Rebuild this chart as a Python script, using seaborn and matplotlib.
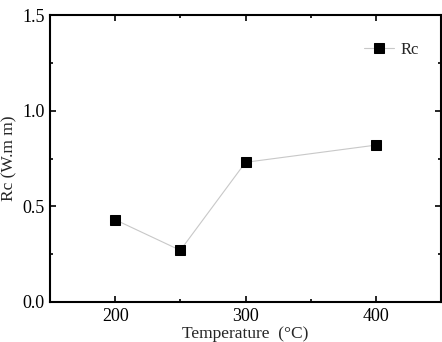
import matplotlib
matplotlib.use("Agg")
import matplotlib.pyplot as plt
import seaborn as sns
import pandas as pd
from matplotlib.ticker import MultipleLocator

temperature = [200, 250, 300, 400]
rc_values = [0.43, 0.27, 0.73, 0.82]

sns.set_theme(style="ticks")
plt.rcParams['font.family'] = ['Liberation Serif', 'DejaVu Serif']

df = pd.DataFrame({"Temperature": temperature, "Rc": rc_values})

fig = plt.figure(figsize=(4.42, 3.42), dpi=100)
ax = fig.add_axes([50/442, 1 - 302/342, 391/442, 287/342])
sns.lineplot(data=df, x="Temperature", y="Rc", ax=ax, color="#c8c8c8", linewidth=0.8,
             marker="s", markersize=6.5, markerfacecolor="black", markeredgecolor="black",
             label="Rc")
ax.set_xlim(150, 450)
ax.set_ylim(0, 1.5)
ax.xaxis.set_major_locator(MultipleLocator(100))
ax.xaxis.set_minor_locator(MultipleLocator(50))
ax.yaxis.set_major_locator(MultipleLocator(0.5))
ax.yaxis.set_minor_locator(MultipleLocator(0.25))
ax.tick_params(which="both", direction="in", top=True, right=True, labelsize=13, colors="black")
ax.tick_params(which="major", length=4, width=1.2, pad=4)
ax.tick_params(which="minor", length=2.5, width=1.2)
ax.set_xticks([200, 300, 400])
ax.set_xticklabels(["200", "300", "400"])
ax.set_yticklabels([f"{v:.1f}" for v in ax.get_yticks()])
for s in ax.spines.values():
    s.set_linewidth(1.5)
    s.set_color("black")
ax.set_xlabel("Temperature  (°C)", fontsize=12.5, labelpad=1)
ax.set_ylabel("Rc (W.m m)", fontsize=12.5, labelpad=3)
leg = ax.legend(loc="upper right", frameon=False, fontsize=12, handlelength=1.8,
                handletextpad=0.4, borderaxespad=0, bbox_to_anchor=(0.96, 0.93))
fig.savefig("out.png", dpi=100)
